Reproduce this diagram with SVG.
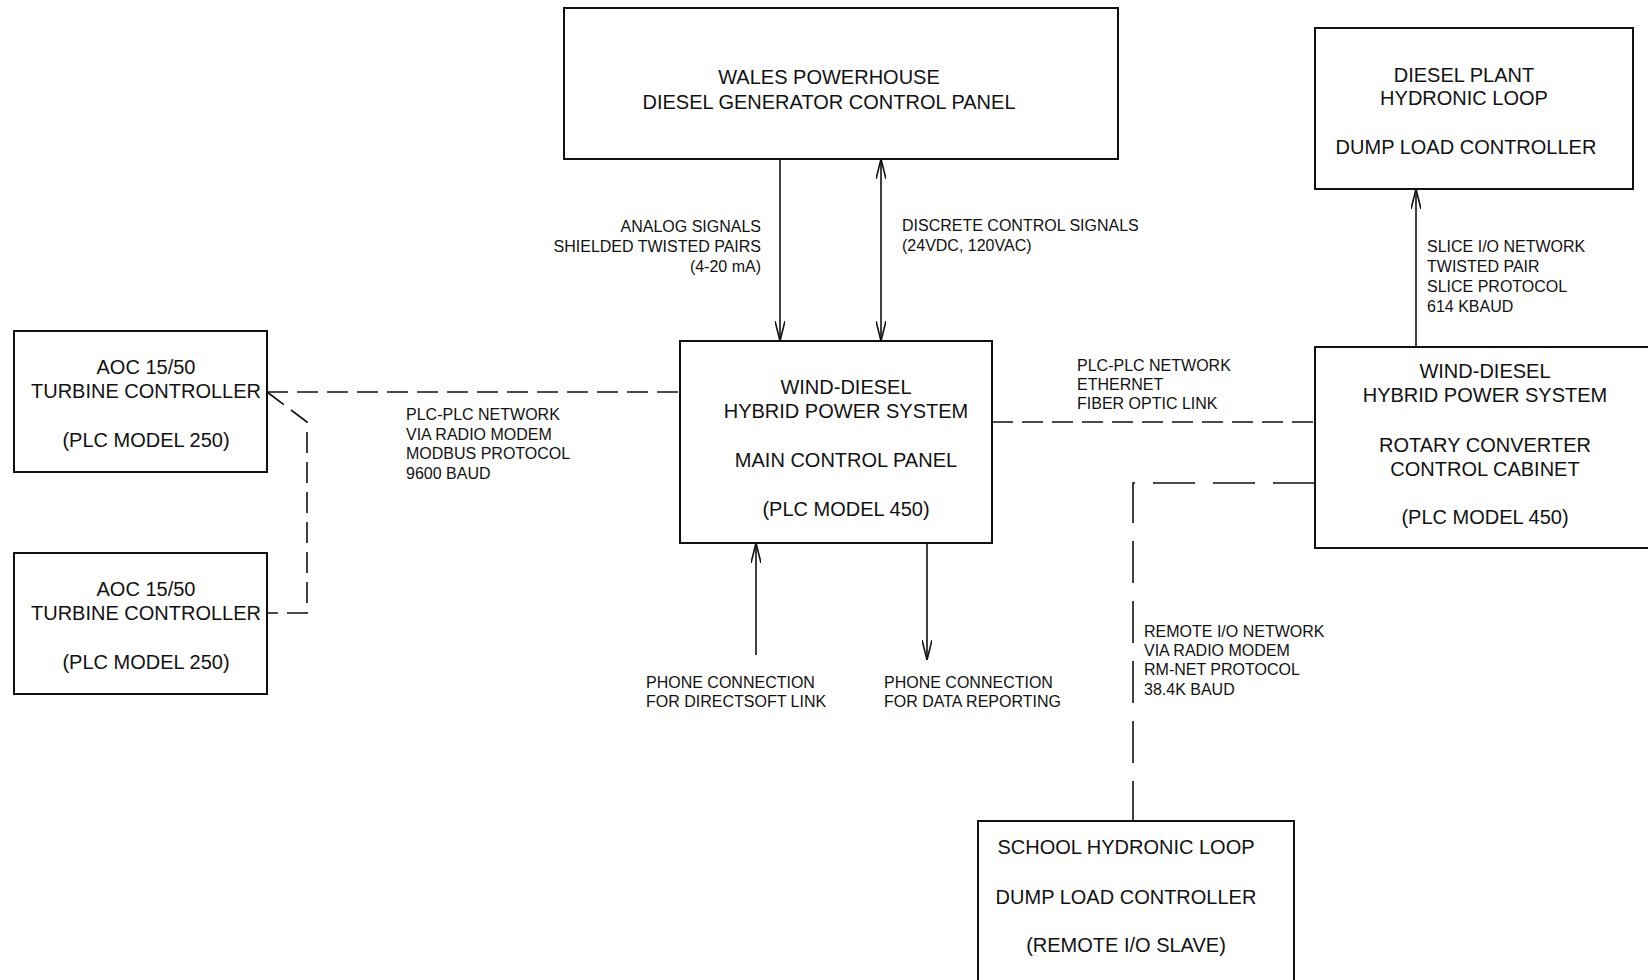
<svg xmlns="http://www.w3.org/2000/svg" width="1648" height="980" viewBox="0 0 1648 980">
<style>
.box{fill:#fff;stroke:#111;stroke-width:2}
.t{font-family:"Liberation Sans",Arial,sans-serif;font-size:20px;fill:#111;text-anchor:middle}
.s{font-family:"Liberation Sans",Arial,sans-serif;font-size:16px;fill:#111}
.ln{fill:none;stroke:#111;stroke-width:1.6}
.d1{stroke-dasharray:21 9}
.d2{stroke-dasharray:42 18}
</style>
<defs>
<marker id="ah" viewBox="0 0 20 10" markerWidth="20" markerHeight="10" refX="20" refY="5" orient="auto-start-reverse" markerUnits="userSpaceOnUse">
<path d="M0,0 L20,5 L0,10" fill="none" stroke="#111" stroke-width="1.6"/>
</marker>
</defs>
<rect width="1648" height="980" fill="#fff"/>

<g id="connectors">
<line class="ln" x1="780" y1="159" x2="780" y2="341" marker-end="url(#ah)"/>
<line class="ln" x1="881" y1="159" x2="881" y2="341" marker-start="url(#ah)" marker-end="url(#ah)"/>
<line class="ln" x1="756" y1="655" x2="756" y2="543" marker-end="url(#ah)"/>
<line class="ln" x1="927" y1="543" x2="927" y2="660" marker-end="url(#ah)"/>
<line class="ln" x1="1416" y1="346" x2="1416" y2="189" marker-end="url(#ah)"/>
<line class="ln d1" x1="267" y1="392" x2="680" y2="392"/>
<path class="ln d1" d="M267,392 L307,422 L307,613 L267,613"/>
<line class="ln d1" x1="992" y1="422" x2="1315" y2="422"/>
<path class="ln d2" d="M1315,483 L1133,483 L1133,821"/>
</g>

<g id="wales">
<rect class="box" x="564" y="8" width="554" height="151"/>
<text class="t" x="829" y="84">WALES POWERHOUSE</text>
<text class="t" x="829" y="109">DIESEL GENERATOR CONTROL PANEL</text>
</g>

<g id="aoc1">
<rect class="box" x="14" y="331" width="253" height="141"/>
<text class="t" x="146" y="374">AOC 15/50</text>
<text class="t" x="146" y="398">TURBINE CONTROLLER</text>
<text class="t" x="146" y="447">(PLC MODEL 250)</text>
</g>

<g id="aoc2">
<rect class="box" x="14" y="553" width="253" height="141"/>
<text class="t" x="146" y="596">AOC 15/50</text>
<text class="t" x="146" y="620">TURBINE CONTROLLER</text>
<text class="t" x="146" y="669">(PLC MODEL 250)</text>
</g>

<g id="main">
<rect class="box" x="680" y="341" width="312" height="202"/>
<text class="t" x="846" y="394">WIND-DIESEL</text>
<text class="t" x="846" y="418">HYBRID POWER SYSTEM</text>
<text class="t" x="846" y="467">MAIN CONTROL PANEL</text>
<text class="t" x="846" y="516">(PLC MODEL 450)</text>
</g>

<g id="dieselplant">
<rect class="box" x="1315" y="28" width="318" height="161"/>
<text class="t" x="1464" y="82">DIESEL PLANT</text>
<text class="t" x="1464" y="105">HYDRONIC LOOP</text>
<text class="t" x="1466" y="154">DUMP LOAD CONTROLLER</text>
</g>

<g id="rotary">
<rect class="box" x="1315" y="347" width="345" height="201"/>
<text class="t" x="1485" y="378">WIND-DIESEL</text>
<text class="t" x="1485" y="402">HYBRID POWER SYSTEM</text>
<text class="t" x="1485" y="452">ROTARY CONVERTER</text>
<text class="t" x="1485" y="476">CONTROL CABINET</text>
<text class="t" x="1485" y="524">(PLC MODEL 450)</text>
</g>

<g id="school">
<rect class="box" x="978" y="821" width="316" height="180"/>
<text class="t" x="1126" y="854">SCHOOL HYDRONIC LOOP</text>
<text class="t" x="1126" y="904">DUMP LOAD CONTROLLER</text>
<text class="t" x="1126" y="952">(REMOTE I/O SLAVE)</text>
</g>

<g id="labels">
<text class="s" x="761" y="232" text-anchor="end">ANALOG SIGNALS</text>
<text class="s" x="761" y="252" text-anchor="end">SHIELDED TWISTED PAIRS</text>
<text class="s" x="761" y="272" text-anchor="end">(4-20 mA)</text>
<text class="s" x="902" y="231">DISCRETE CONTROL SIGNALS</text>
<text class="s" x="902" y="251">(24VDC, 120VAC)</text>
<text class="s" x="406" y="420">PLC-PLC NETWORK</text>
<text class="s" x="406" y="439.5">VIA RADIO MODEM</text>
<text class="s" x="406" y="459">MODBUS PROTOCOL</text>
<text class="s" x="406" y="478.5">9600 BAUD</text>
<text class="s" x="1077" y="371">PLC-PLC NETWORK</text>
<text class="s" x="1077" y="390">ETHERNET</text>
<text class="s" x="1077" y="409">FIBER OPTIC LINK</text>
<text class="s" x="1427" y="252">SLICE I/O NETWORK</text>
<text class="s" x="1427" y="272">TWISTED PAIR</text>
<text class="s" x="1427" y="292">SLICE PROTOCOL</text>
<text class="s" x="1427" y="312">614 KBAUD</text>
<text class="s" x="646" y="688">PHONE CONNECTION</text>
<text class="s" x="646" y="707">FOR DIRECTSOFT LINK</text>
<text class="s" x="884" y="688">PHONE CONNECTION</text>
<text class="s" x="884" y="707">FOR DATA REPORTING</text>
<text class="s" x="1144" y="637">REMOTE I/O NETWORK</text>
<text class="s" x="1144" y="656">VIA RADIO MODEM</text>
<text class="s" x="1144" y="675">RM-NET PROTOCOL</text>
<text class="s" x="1144" y="695">38.4K BAUD</text>
</g>
</svg>
